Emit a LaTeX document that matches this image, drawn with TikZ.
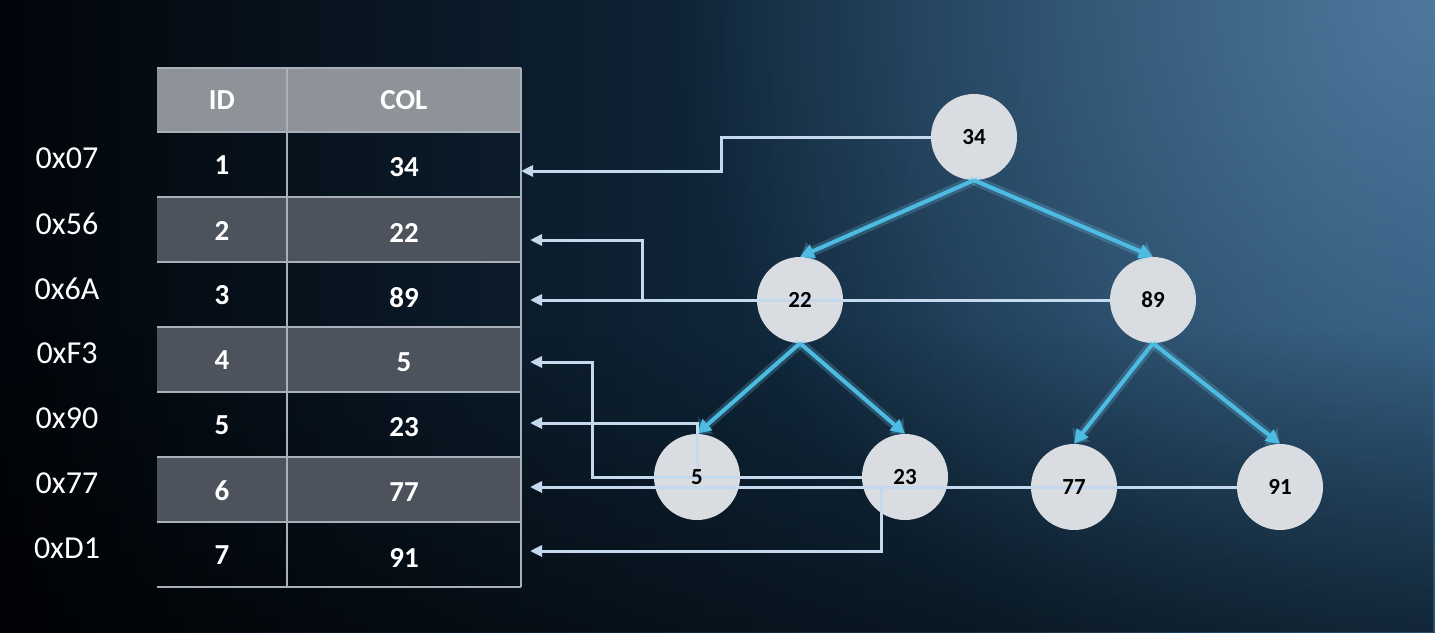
\documentclass[tikz,border=0pt]{standalone}
\usepackage{fontspec}
\setmainfont{Carlito}
\usetikzlibrary{arrows.meta, fadings}

\definecolor{bgleft}{HTML}{02050A}
\definecolor{bgmid}{HTML}{0B1F36}
\definecolor{bgright}{HTML}{1C4566}
\definecolor{bgglow}{HTML}{5F8AB0}
\definecolor{hdrgray}{HTML}{8E9399}
\definecolor{rowgray}{HTML}{4D535C}
\definecolor{gridline}{HTML}{A9B0B9}
\definecolor{keyfill}{HTML}{D9DCE1}
\definecolor{edgecyan}{HTML}{4DBBE2}
\definecolor{edgeglow}{HTML}{6FD3F5}
\definecolor{ptrblue}{HTML}{C4D8EE}

\tikzfading[name=glowfade, inner color=transparent!25, outer color=transparent!100]
\tikzfading[name=fadedown, top color=transparent!100, bottom color=transparent!50]

\tikzset{
  keynode/.style={circle, fill=keyfill, minimum size=86pt, inner sep=0pt},
  keytext/.style={font=\fontsize{23}{23}\selectfont\bfseries, text=black},
  celltext/.style={font=\fontsize{29}{29}\selectfont\bfseries, text=white},
  addrtext/.style={font=\fontsize{32}{32}\selectfont, text=white},
  gridrule/.style={draw=gridline, line width=1.5pt},
  treeedge/.style={draw=edgecyan, line width=4pt, -{Triangle[length=14pt,width=14pt]},
    preaction={draw=edgeglow, line width=10pt, opacity=0.22, -{Triangle[length=12pt,width=22pt]}}},
  ptr/.style={draw=ptrblue, line width=3pt, -{Triangle[length=12pt,width=11pt]}},
}

\begin{document}
\begin{tikzpicture}[x=1pt, y=-1pt]
\useasboundingbox (0,0) rectangle (1435,632);
% background
\fill[left color=bgleft, middle color=bgmid, right color=bgright] (0,0) rectangle (1435,632);
\fill[bgglow, path fading=glowfade] (1435,0) circle (760);
\fill[black, path fading=fadedown] (0,330) rectangle (1435,632);

% table
\fill[hdrgray] (157,68) rectangle (521,132);
\node[celltext] (hid) at (222,100) {ID};
\node[celltext] (hcol) at (404,100) {COL};
\foreach \r/\val/\addr in {1/34/0x07, 2/22/0x56, 3/89/0x6A, 4/5/0xF3, 5/23/0x90, 6/77/0x77, 7/91/0xD1} {
  \pgfmathsetmacro\yc{99.5+65*\r}
  \ifodd\r\relax\else
    \fill[rowgray] (157,\yc-32.5) rectangle (521,\yc+32.5);
  \fi
  \node[celltext] (id\r) at (222,\yc+1) {\r};
  \node[celltext] (col\r) at (404,\yc+3) {\val};
  \node[addrtext] (addr\r) at (67,\yc-6) {\addr};
}
\draw[gridrule] (157,68) -- (521,68);
\foreach \yy in {132,197,...,587}
  \draw[gridrule] (157,\yy) -- (521,\yy);
\draw[gridrule] (287,68) -- (287,587);
\draw[gridrule] (521,68) -- (521,587);

% tree
\node[keynode] (n34) at (974,137) {};
\node[keynode] (n22) at (800,300) {};
\node[keynode] (n89) at (1153,300) {};
\node[keynode] (n5) at (697,477) {};
\node[keynode] (n23) at (905,477) {};
\node[keynode] (n77) at (1074,487) {};
\node[keynode] (n91) at (1280,487) {};

\draw[treeedge] (n34.south) -- (n22.north);
\draw[treeedge] (n34.south) -- (n89.north);
\draw[treeedge] (n22.south) -- (n5.north);
\draw[treeedge] (n22.south) -- (n23.north);
\draw[treeedge] (n89.south) -- (n77.north);
\draw[treeedge] (n89.south) -- (n91.north);

% row pointers
\coordinate (p1) at (521,171);
\coordinate (p2) at (530,240);
\coordinate (p3) at (530,300);
\coordinate (p4) at (530,362);
\coordinate (p5) at (530,423);
\coordinate (p6) at (530,487);
\coordinate (p7) at (530,551);

\draw[ptr] (n34.west) -- ++(-209,0) |- (p1);
\draw[ptr] (n22.west) -- ++(-114,0) |- (p2);
\draw[ptr] (n89.west) -- (p3);
\draw[ptr] (n5.center) -- ++(-105,0) |- (p4);
\draw[ptr] (n23.west) -- (n5.center) |- (p5);
\draw[ptr] (n77.west) -- (p6);
\draw[ptr] (n91.west) -- ++(-355,0) |- (p7);

\foreach \k in {34,22,89,5,23,77,91}
  \node[keytext] (t\k) at (n\k) {\k};
\end{tikzpicture}
\end{document}
